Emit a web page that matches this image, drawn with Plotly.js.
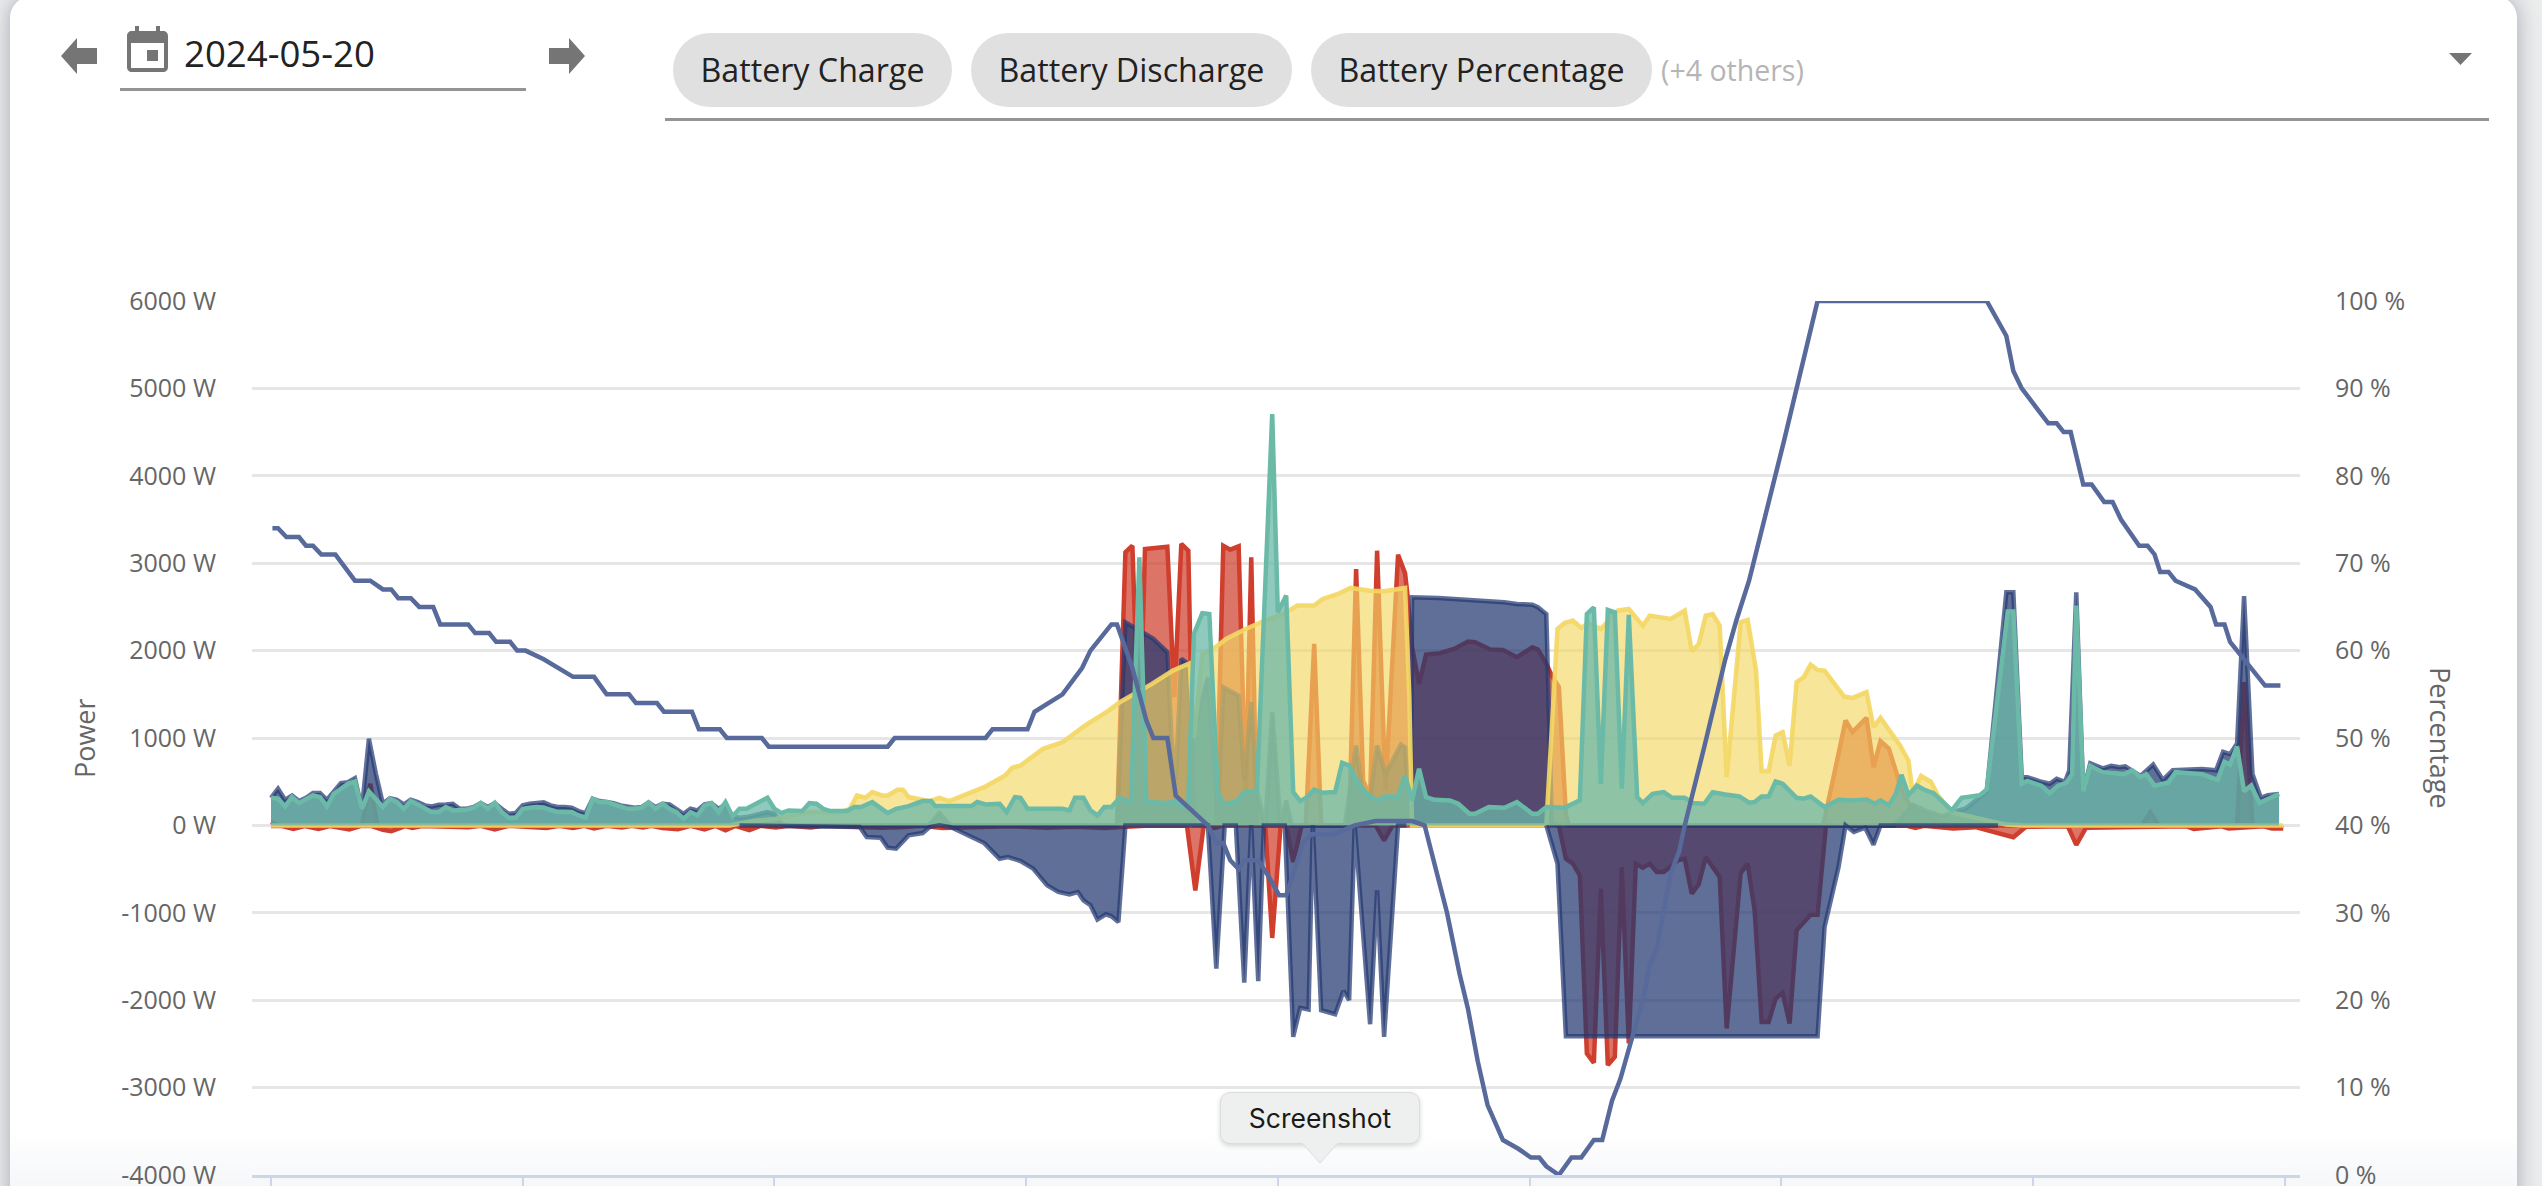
<!DOCTYPE html>
<html><head><meta charset="utf-8">
<script src="https://cdn.plot.ly/plotly-3.0.1.min.js"></script>
<style>
html,body{margin:0;padding:0;width:2542px;height:1186px;overflow:hidden;background:#eceded;font-family:"Open Sans",sans-serif}
#card{position:absolute;left:10px;top:-4px;width:2507px;height:1260px;background:#fff;border-radius:22px;box-shadow:0 0 22px rgba(70,72,100,.42)}
#chart{position:absolute;left:0;top:0;width:2542px;height:1186px}
.ui{position:absolute}
.chip{position:absolute;top:33px;height:74px;background:#e0e0e0;border-radius:37px;font-size:32.2px;line-height:74px;color:#222;text-align:center;white-space:nowrap}
.rule{position:absolute;height:2.5px;background:#949494}
#fade{position:absolute;left:10px;top:1130px;width:2507px;height:56px;background:linear-gradient(rgba(246,247,249,0),rgba(246,247,249,1))}
#tip{position:absolute;left:1220px;top:1092px;width:200px;height:52px;background:#eef0f0;border:1px solid #dcdcdc;border-radius:10px;box-shadow:0 2px 5px rgba(0,0,0,.16);font-family:Inter,Roboto,sans-serif;font-size:26.5px;line-height:51px;text-align:center;color:#1a1a1a;box-sizing:border-box}
</style></head><body>
<div id="card"></div>
<div id="fade"></div>
<div id="chart"></div>

<svg class="ui" style="left:61px;top:38px" width="36" height="36" viewBox="0 0 36 36"><path d="M0 18 L16 0 V10 H36 V26 H16 V36Z" fill="#757575"/></svg>
<svg class="ui" style="left:549px;top:38px" width="36" height="36" viewBox="0 0 36 36"><path d="M36 18 L20 0 V10 H0 V26 H20 V36Z" fill="#757575"/></svg>
<svg class="ui" style="left:127px;top:26px" width="41" height="46" viewBox="0 0 41 46"><path fill="#757575" d="M8 0h4v5h17V0h4v5h3c3 0 5 2 5 5v31c0 3-2 5-5 5H5c-3 0-5-2-5-5V10c0-3 2-5 5-5h3zM4 17v25h33V17z"/><rect x="20" y="24" width="11" height="11" fill="#757575"/></svg>
<div class="ui" id="date" style="left:184px;top:28px;font-size:36.6px;line-height:50px;color:#222">2024-05-20</div>
<div class="rule" style="left:120px;top:88px;width:406px"></div>
<div class="chip" style="left:673px;width:279px">Battery Charge</div>
<div class="chip" style="left:971px;width:321px">Battery Discharge</div>
<div class="chip" style="left:1311px;width:341px">Battery Percentage</div>
<div class="ui" style="left:1661px;top:50px;font-size:28.5px;line-height:40px;color:#b5b5b5">(+4 others)</div>
<svg class="ui" style="left:2449px;top:53px" width="23" height="12"><path d="M0 0H23L11.5 12Z" fill="#757575"/></svg>
<div class="rule" style="left:665px;top:118px;width:1824px"></div>
<div id="tip">Screenshot</div>
<svg class="ui" style="left:1296px;top:1142px" width="48" height="22"><path d="M6 1 L24 21 L42 1" fill="#eef0f0" stroke="#dcdcdc" stroke-width="1"/><rect x="8" y="0" width="32" height="2" fill="#eef0f0"/></svg>

<script>
// Time of day in minutes, power in watts, charge in percent.
const powerTicks = [6000,5000,4000,3000,2000,1000,0,-1000,-2000,-3000,-4000];
const powerLabels = ['6000 W','5000 W','4000 W','3000 W','2000 W','1000 W','0 W','-1000 W','-2000 W','-3000 W','-4000 W'];
const pctTicks = [100,90,80,70,60,50,40,30,20,10,0];
const pctLabels = ['100 %','90 %','80 %','70 %','60 %','50 %','40 %','30 %','20 %','10 %','0 %'];
const timeTicks = [0,180,360,540,720,900,1080,1260,1440];

const pctMin = [1,5,11,20,25,30,36,46,60,71,80,86,91,100,106,116,121,141,146,156,161,171,176,182,195,216,231,240,256,261,276,281,301,306,321,326,351,356,407,441,446,511,516,541,546,566,580,586,601,605,616,626,631,641,647,670,676,681,686,692,696,706,714,721,726,730,738,744,752,760,775,790,805,816,825,841,850,856,863,870,881,892,901,907,912,921,930,937,946,952,959,965,981,986,991,1001,1007,1011,1025,1031,1040,1048,1057,1082,1091,1099,1106,1227,1241,1246,1252,1271,1277,1282,1287,1296,1302,1311,1317,1323,1336,1342,1347,1351,1357,1362,1376,1387,1391,1397,1401,1426,1437];
const pctVal = [74,74,73,73,72,72,71,71,68,68,67,67,66,66,65,65,63,63,62,62,61,61,60,60,59,57,57,55,55,54,54,53,53,51,51,50,50,49,49,49,50,50,51,51,53,55,58,60,63,63,58,52,50,50,43.4,40,38,38,36,35,36,36,34,32,32,34,38,39,39,39,40,40.5,40.5,40.5,40,30,23,19,13,8,4,3,2,2,1,0,2,2,4,4,8.5,11,20,24,26,34.5,37,40,49,53,59,63.5,68,84,90,95,100,100,96,92,90,86,86,85,85,79,79,77,77,75,72,72,71,69,69,68,67,65,63,63,61,56,56];

const dischargeMin = [0,5,65,71,76,605,611,616,621,625,641,646,651,656,660,676,681,686,692,696,697,701,705,740,746,751,771,776,781,786,791,797,806,811,813,816,821,826,836,846,856,861,872,881,891,902,906,912,916,921,926,928,1110,1121,1126,1131,1141,1146,1151,1157,1162,1167,1176,1181,1191,1202,1338,1344,1350,1406,1411,1417,1436];
const dischargeW = [38,0,0,476,0,0,3124,3200,800,3162,3189,1467,3220,3143,0,0,3200,3155,3193,500,324,3067,0,0,2076,0,0,2934,514,324,3143,400,3097,2884,2600,2038,1619,1954,1970,2019,2103,2095,2012,2008,1924,2038,2012,1848,1714,1581,133,0,0,819,1200,1067,1231,667,964,876,610,362,133,152,38,0,0,149,0,0,1640,0,0];

const chargeMin = [0,8,16,24,34,42,56,64,72,80,86,91,96,101,108,141,150,160,170,197,206,216,224,231,240,251,258,266,272,280,291,300,310,318,325,332,342,350,361,370,386,395,425,436,450,466,480,530,555,575,596,625,655,661,667,675,681,711,716,722,726,731,737,790,796,802,921,926,931,936,941,946,951,956,961,966,971,976,981,986,991,996,1002,1006,1011,1016,1021,1026,1036,1041,1051,1056,1061,1066,1071,1076,1081,1086,1091,1101,1106,1112,1170,1176,1182,1203,1219,1246,1255,1285,1291,1298,1370,1375,1395,1400,1425,1431,1439];
const chargeW = [-8,-8,-40,-8,-40,-8,-45,-8,-8,-50,-65,-40,-8,-30,-8,-20,-5,-45,-5,-30,-5,-30,-5,-35,-5,-25,-5,-25,-5,-30,-45,-5,-45,-5,-55,-5,-55,-5,-25,-5,-25,-5,-27,-27,-20,-5,-30,-10,-27,-15,-30,-5,0,-743,0,-30,0,0,-1288,0,0,-419,0,0,-171,0,0,-381,-438,-571,-2610,-2716,-724,-2743,-2648,-476,-2495,-438,-484,-438,-533,-533,-457,-400,-381,-781,-674,-362,-590,-2324,-545,-438,-972,-2248,-2248,-1981,-1916,-2267,-1200,-1021,-1021,0,-5,-30,-5,-35,-20,-136,-15,-10,-223,-26,-10,-40,-10,-35,-10,-35,-35];

const gridInMin = [0,5,10,15,20,25,30,35,40,45,50,55,60,65,70,75,80,85,90,95,100,105,110,115,120,125,130,135,140,145,150,155,160,165,170,175,180,185,190,195,200,205,210,215,220,225,230,235,240,245,250,255,260,265,270,275,280,285,290,295,300,305,310,315,320,325,330,335,340,345,350,355,360,365,370,470,478,486,605,611,623,631,641,644,647,651,656,660,670,677,681,692,696,701,705,711,716,722,726,730,768,776,781,786,791,797,808,811,815,816,835,862,882,891,902,906,912,916,921,1161,1174,1183,1195,1202,1212,1222,1227,1241,1246,1252,1256,1266,1272,1277,1283,1286,1291,1296,1301,1310,1316,1322,1326,1337,1346,1353,1360,1381,1391,1396,1401,1406,1411,1417,1423,1428,1436];
const gridInW = [316,419,293,343,278,316,370,370,293,381,484,495,541,190,991,591,248,312,293,240,293,267,229,217,236,240,248,190,190,210,255,210,255,190,133,141,229,248,255,263,229,210,210,202,164,141,305,278,267,255,229,217,202,210,263,210,248,240,190,133,190,171,240,255,190,240,103,88,95,114,133,152,133,19,0,0,141,0,0,2324,2210,2134,1981,990,514,1905,1848,1086,1695,133,1581,1486,514,1410,400,0,1295,0,286,0,0,914,324,324,914,590,926,895,0,2610,2602,2579,2553,2534,2526,2496,2419,20,0,0,236,170,105,149,193,324,390,2667,2667,552,552,499,477,534,499,631,2667,390,710,653,683,665,675,565,696,521,631,644,631,841,815,937,2624,587,315,346,359];

const gridOutMin = [335,421,426,436,441,447,456,466,471,478,486,495,510,521,527,536,545,555,563,571,577,581,586,591,597,601,606,611,670,676,682,690,696,701,706,710,725,731,736,742,745,751,761,767,771,775,786,791,796,806,812,813,912,920,926,1106,1111,1121,1126,1132,1140,1146,1151,1235];
const gridOutW = [0,-19,-133,-141,-255,-267,-114,-88,-19,0,-19,-88,-202,-381,-362,-408,-495,-686,-762,-789,-762,-857,-914,-1078,-1017,-1040,-1105,0,0,-1638,0,0,-1798,0,-1783,0,0,-2419,-2088,-2107,0,-2115,-2160,-1894,-2000,0,-2275,-743,-2419,0,0,null,0,-438,-2412,-2412,-1162,-476,0,-76,-27,-221,0,0];

const solarMin = [0,328,345,361,385,407,414,419,425,430,437,441,448,452,456,466,471,478,485,510,525,530,536,552,566,582,599,607,630,645,657,660,666,677,683,697,708,724,734,746,752,763,772,786,796,811,814,816,912,920,925,931,937,942,951,963,971,981,986,1001,1011,1016,1021,1026,1031,1036,1041,1051,1056,1062,1066,1071,1076,1081,1086,1091,1096,1101,1106,1111,1125,1131,1141,1146,1151,1165,1171,1174,1180,1187,1192,1202,1214,1227,1241,1253,1439];
const solarW = [0,0,50,76,152,152,190,343,316,381,343,343,408,408,324,293,278,316,278,438,571,659,686,876,952,1143,1314,1410,1619,1771,1855,1000,1962,2057,2134,2248,2324,2419,2515,2515,2591,2648,2717,2686,2678,2717,1500,0,0,2248,2316,2343,2259,2312,2248,2457,2476,2286,2400,2362,2457,1993,2076,2400,2419,2286,552,2324,2351,1772,621,621,1029,1067,686,1638,1695,1840,1779,1772,1474,1459,1524,1124,1231,915,740,368,565,500,346,149,105,53,9,0,0];

const loadMin = [0,5,10,15,20,25,30,35,40,45,50,55,60,65,70,75,80,85,90,95,100,105,110,115,120,125,130,135,140,145,150,155,160,165,170,175,180,185,190,195,200,205,210,215,220,225,230,235,240,245,250,255,260,265,270,275,280,285,290,295,300,305,310,315,320,325,330,335,340,345,350,355,360,365,370,375,380,385,390,395,400,405,412,417,422,430,441,447,456,466,472,475,485,501,505,511,521,526,532,536,541,566,571,575,581,586,591,596,601,607,615,621,626,641,646,651,656,660,666,671,677,681,690,696,705,716,720,726,731,736,741,746,752,761,766,771,776,786,792,797,806,811,816,821,826,832,843,849,857,861,871,882,891,902,906,912,925,936,941,946,951,956,961,966,971,977,981,988,996,1002,1011,1017,1025,1031,1040,1050,1057,1061,1066,1071,1076,1081,1091,1096,1101,1111,1121,1131,1141,1147,1151,1157,1162,1166,1171,1177,1183,1189,1202,1209,1222,1227,1242,1246,1252,1256,1266,1272,1278,1284,1288,1291,1296,1301,1310,1325,1331,1337,1341,1347,1357,1362,1381,1392,1397,1401,1406,1411,1416,1422,1428,1436];
const loadW = [316,305,217,324,255,305,343,324,217,362,419,476,503,190,389,305,210,305,267,190,278,240,190,152,152,210,171,179,179,202,255,190,259,152,88,88,190,202,210,202,171,152,152,152,114,88,305,267,267,240,217,190,190,202,263,190,248,190,152,76,152,114,229,255,152,267,103,190,190,229,267,316,190,141,171,164,164,255,248,190,164,164,164,210,210,267,141,190,221,278,278,221,221,221,267,240,248,152,324,316,190,190,171,316,316,171,114,210,210,316,267,3067,267,255,278,210,278,2190,2427,2419,381,248,267,381,381,4705,2438,2629,381,278,324,408,373,381,716,686,514,324,293,331,331,571,286,648,324,293,286,248,133,133,210,202,267,133,133,210,202,286,2419,2496,476,2465,2438,419,2408,324,255,362,381,316,316,255,248,381,354,331,259,267,331,331,503,476,316,305,331,210,293,286,297,248,286,229,362,579,346,455,403,368,171,315,346,412,2448,2448,477,508,455,368,455,490,587,2514,390,683,609,587,630,552,587,455,490,609,587,521,727,696,902,390,455,258,302,359];

const seriesName = ['Battery Percentage','Battery Discharge','Battery Charge','Grid Import','Solar','Load','Grid Export'];

const navyLine='rgba(36,57,114,.72)', navyFill='rgba(36,57,114,.73)';
const redLine='rgb(208,62,46)', redFill='rgba(208,62,46,.72)';
const yellowLine='rgba(243,215,100,.92)', yellowFill='rgba(243,215,100,.65)';
const tealLine='rgb(107,186,168)', tealFill='rgba(107,184,168,.75)';

function area(name,x,y,line,fill){return {type:'scatter',mode:'lines',name:name,x:x,y:y,fill:'tozeroy',fillcolor:fill,line:{color:line,width:4.5},cliponaxis:false,connectgaps:false,hoverinfo:'skip'};}
const traces=[
 {type:'scatter',mode:'lines',name:seriesName[0],x:pctMin,y:pctVal,yaxis:'y2',line:{color:'#586a9b',width:4.5},cliponaxis:false,hoverinfo:'skip'},
 area(seriesName[1],dischargeMin,dischargeW,redLine,redFill),
 area(seriesName[2],chargeMin,chargeW,redLine,redFill),
 area(seriesName[3],gridInMin,gridInW,navyLine,navyFill),
 area(seriesName[4],solarMin,solarW,yellowLine,yellowFill),
 area(seriesName[5],loadMin,loadW,tealLine,tealFill),
 area(seriesName[6],gridOutMin,gridOutW,navyLine,navyFill)
];
const tickFont={family:'"Open Sans",sans-serif',size:25,color:'#666666'};
const titleFont={family:'"Open Sans",sans-serif',size:27,color:'#666666'};
const layout={
 width:2542,height:1186,showlegend:false,
 paper_bgcolor:'rgba(0,0,0,0)',plot_bgcolor:'rgba(0,0,0,0)',
 margin:{l:252,r:242,t:301,b:11,pad:0},
 xaxis:{range:[-13.6,1451],tickvals:timeTicks,showticklabels:false,ticks:'outside',ticklen:12,tickwidth:2,tickcolor:'#ccd6eb',showline:true,linecolor:'#ccd6eb',linewidth:3,showgrid:false,zeroline:false,fixedrange:true},
 yaxis:{range:[-4000,6000],tickvals:powerTicks,ticktext:powerLabels,tickfont:tickFont,ticks:'',ticklabelstandoff:35,ticklabeloverflow:'allow',gridcolor:'#e6e6e6',gridwidth:3,zeroline:false,showline:false,fixedrange:true},
 yaxis2:{range:[0,100],overlaying:'y',side:'right',tickvals:pctTicks,ticktext:pctLabels,tickfont:tickFont,ticks:'',ticklabelstandoff:34,ticklabeloverflow:'allow',showgrid:false,zeroline:false,showline:false,fixedrange:true},
 annotations:[
  {text:'Power',xref:'paper',yref:'paper',x:-0.082,y:0.5,xanchor:'center',yanchor:'middle',textangle:-90,showarrow:false,font:titleFont},
  {text:'Percentage',xref:'paper',yref:'paper',x:1.0688,y:0.5,xanchor:'center',yanchor:'middle',textangle:90,showarrow:false,font:titleFont}
 ]
};
Plotly.newPlot('chart',traces,layout,{staticPlot:true,displayModeBar:false});
</script>
</body></html>
